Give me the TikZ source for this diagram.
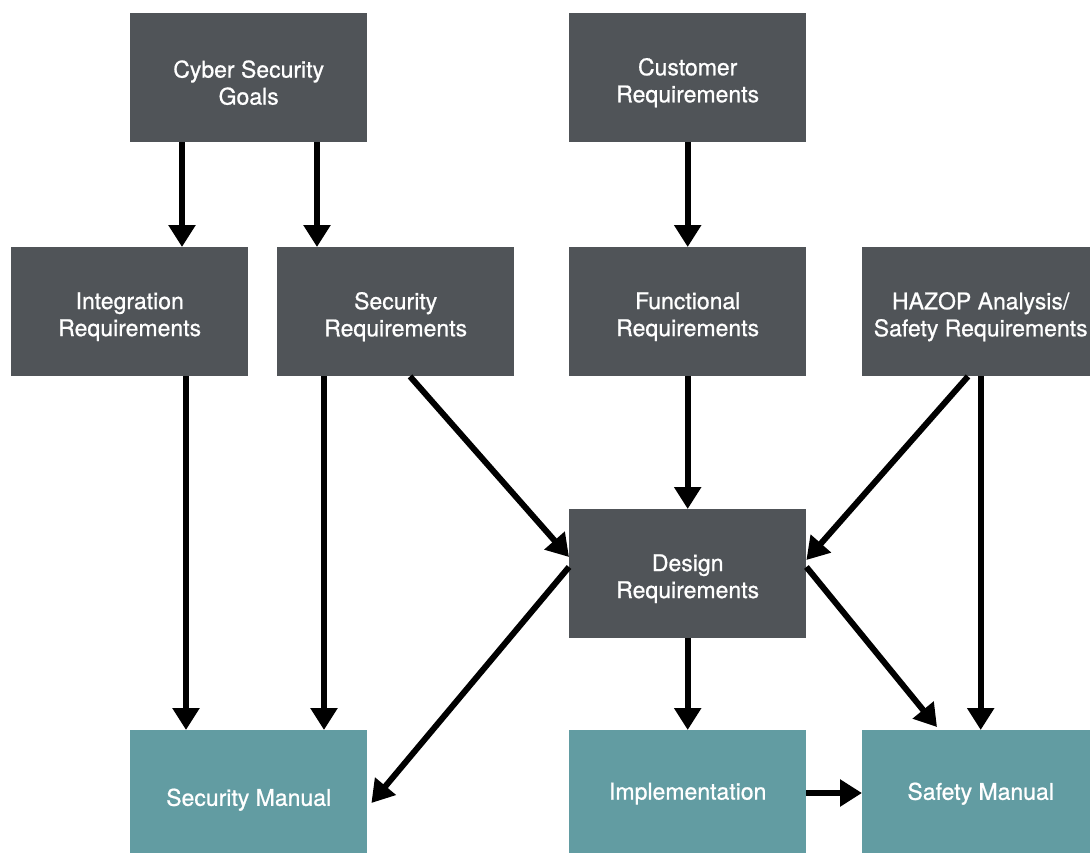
\documentclass[tikz,border=0pt]{standalone}
\usepackage{fontspec}
\setmainfont{TeX Gyre Heros}[BoldFont={TeX Gyre Heros}, BoldFeatures={FakeBold=0.8}]
\usetikzlibrary{arrows.meta,calc}
\definecolor{boxgray}{RGB}{80,84,88}
\definecolor{boxteal}{RGB}{98,156,162}
\begin{document}
\begin{tikzpicture}[x=1pt,y=-1pt,
  box/.style={anchor=north west, minimum width=237pt, minimum height=129pt,
    inner sep=0pt},
  txt/.style={text=white, align=center, yshift=-5pt,
    font=\fontsize{23}{27}\selectfont\bfseries},
  req/.style={box, fill=boxgray},
  outbox/.style={box, fill=boxteal},
  arr/.style={line width=6pt, -{Triangle[width=26pt,length=22pt]}}]
\useasboundingbox (0,0) rectangle (1090,852);
\clip (0,0) rectangle (1090,852);

% top row
\node[req, label={[txt]center:{Cyber Security\\Goals}}] (cyber) at (130,13) {};
\node[req, label={[txt]center:{Customer\\Requirements}}] (cust) at (569,13) {};

% requirement row
\node[req, label={[txt]center:{Integration\\Requirements}}] (integ) at (11,247) {};
\node[req, label={[txt]center:{Security\\Requirements}}] (secreq) at (277,247) {};
\node[req, label={[txt]center:{Functional\\Requirements}}] (func) at (569,247) {};
\node[req, label={[txt]center:{HAZOP Analysis/\\Safety Requirements}}] (hazop) at (862,247) {};

% design
\node[req, label={[txt]center:{Design\\Requirements}}] (design) at (569,509) {};

% outputs
\node[outbox, label={[txt]center:{Security Manual}}] (secman) at (130,730) {};
\node[outbox, label={[txt,yshift=6pt]center:{Implementation}}] (impl) at (569,730) {};
\node[outbox, label={[txt,yshift=6pt]center:{Safety Manual}}] (safman) at (862,730) {};

% connectors
\draw[arr] ($(cyber.south west)+(52,0)$) -- ($(integ.north west)+(171,0)$);
\draw[arr] ($(cyber.south west)+(187,0)$) -- ($(secreq.north west)+(40,0)$);
\draw[arr] (cust.south) -- (func.north);

\draw[arr] ($(integ.south west)+(175,0)$) -- ($(secman.north west)+(56,0)$);
\draw[arr] ($(secreq.south west)+(47,0)$) -- ($(secman.north west)+(194,0)$);
\draw[arr] ($(secreq.south west)+(133,0)$) -- ($(design.north west)+(0,48)$);
\draw[arr] (func.south) -- (design.north);
\draw[arr] ($(hazop.south west)+(106,0)$) -- ($(design.north east)+(0,51)$);
\draw[arr] (hazop.south) -- (safman.north);

\draw[arr] ($(design.north west)+(0,58)$) -- ($(secman.north east)+(4,73)$);
\draw[arr] (design.south) -- (impl.north);
\draw[arr] ($(design.north east)+(0,58)$) -- ($(safman.north west)+(75,-3)$);
\draw[arr] ($(impl.north east)+(0,63)$) -- ($(safman.north west)+(0,63)$);
\end{tikzpicture}
\end{document}
